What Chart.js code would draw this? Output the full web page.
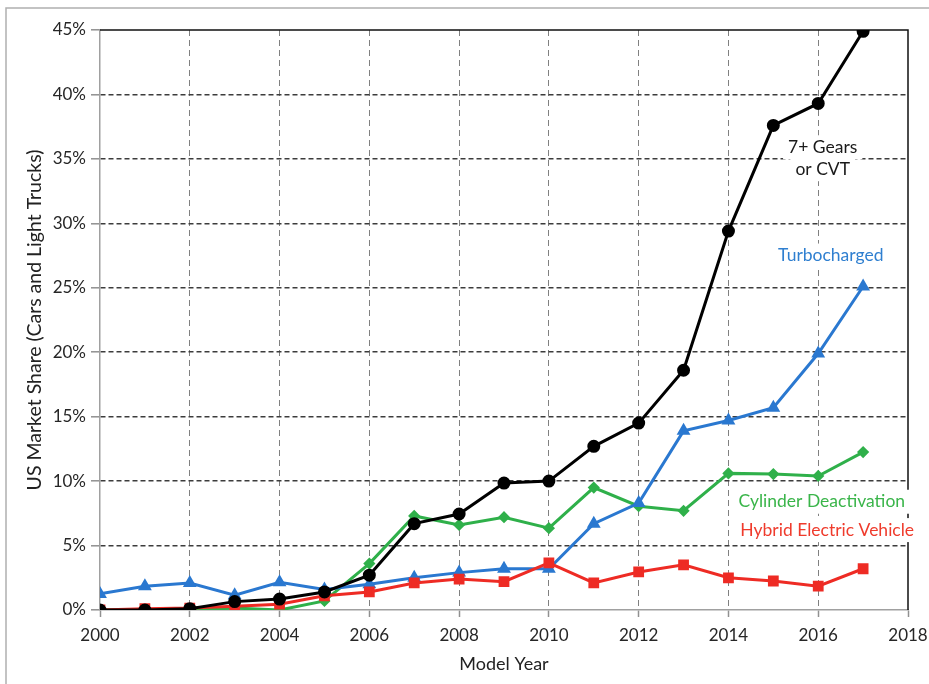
<!DOCTYPE html>
<html>
<head>
<meta charset="utf-8">
<script src="https://cdn.jsdelivr.net/npm/chart.js@4.4.1/dist/chart.umd.min.js"></script>
<style>
  html, body { margin: 0; padding: 0; background: #fff; }
  #wrap { width: 929px; height: 684px; }
</style>
</head>
<body>
<div id="wrap"><canvas id="shareChart" width="929" height="684"></canvas></div>
<script>
// Model years and market share (%) per technology
const years = [2000, 2001, 2002, 2003, 2004, 2005, 2006, 2007, 2008, 2009, 2010, 2011, 2012, 2013, 2014, 2015, 2016, 2017];
const gears = [0, 0, 0.1, 0.65, 0.85, 1.4, 2.7, 6.7, 7.45, 9.85, 10.0, 12.7, 14.5, 18.6, 29.4, 37.6, 39.3, 44.9];
const turbo = [1.25, 1.85, 2.1, 1.15, 2.15, 1.6, 2.0, 2.5, 2.9, 3.2, 3.2, 6.7, 8.3, 13.9, 14.7, 15.7, 19.9, 25.1];
const cylinder = [0, 0, 0, 0.15, 0, 0.7, 3.6, 7.3, 6.6, 7.2, 6.35, 9.5, 8.05, 7.7, 10.6, 10.55, 10.4, 12.25];
const hybrid = [0, 0.1, 0.15, 0.3, 0.45, 1.1, 1.4, 2.1, 2.4, 2.2, 3.65, 2.1, 2.95, 3.5, 2.5, 2.25, 1.85, 3.2];

// Series labels placed inside the plot
const seriesLabels = [
    { lines: ['7+ Gears', 'or CVT'], x: 2016.1, y: [35.9, 34.2], color: '#1a1a1a' },
    { lines: ['Turbocharged'], x: 2016.28, y: [27.5], color: '#2f7fd0' },
    { lines: ['Cylinder Deactivation'], x: 2016.08, y: [8.4], color: '#3ab54a' },
    { lines: ['Hybrid Electric Vehicle'], x: 2016.2, y: [6.2], color: '#ef3b2c' }
];

const FONT = 'Lato, "Open Sans", sans-serif';

function toPoints(values) {
    return values.map((v, i) => ({ x: years[i], y: v }));
}

// Frame, top/right plot borders and in-plot labels
const decorations = {
    id: 'decorations',
    beforeDraw(chart) {
        const ctx = chart.ctx;
        ctx.save();
        ctx.strokeStyle = '#b0b0b0';
        ctx.lineWidth = 1.5;
        ctx.beginPath();
        ctx.moveTo(6, 684);
        ctx.lineTo(6, 8);
        ctx.lineTo(929, 8);
        ctx.stroke();
        ctx.restore();
    },
    beforeDatasetsDraw(chart) {
        const { ctx, chartArea: a } = chart;
        ctx.save();
        ctx.strokeStyle = '#111';
        ctx.lineWidth = 1.5;
        ctx.beginPath();
        ctx.moveTo(a.left, a.top);
        ctx.lineTo(a.right, a.top);
        ctx.lineTo(a.right, a.bottom);
        ctx.stroke();
        ctx.restore();
    },
    afterDatasetsDraw(chart) {
        const ctx = chart.ctx;
        const xs = chart.scales.x, ys = chart.scales.y;
        ctx.save();
        ctx.font = '17.5px ' + FONT;
        ctx.textAlign = 'center';
        ctx.textBaseline = 'middle';
        seriesLabels.forEach(l => {
            const cx = xs.getPixelForValue(l.x);
            l.lines.forEach((t, i) => {
                const cy = ys.getPixelForValue(l.y[i]);
                const w = ctx.measureText(t).width;
                ctx.fillStyle = '#fff';
                ctx.fillRect(cx - w / 2 - 5, cy - 12, w + 10, 24);
            });
            l.lines.forEach((t, i) => {
                const cy = ys.getPixelForValue(l.y[i]);
                ctx.fillStyle = l.color;
                ctx.fillText(t, cx, cy);
            });
        });
        ctx.restore();
    }
};

new Chart(document.getElementById('shareChart'), {
    type: 'line',
    data: {
        datasets: [
            {
                label: '7+ Gears or CVT',
                data: toPoints(gears),
                borderColor: '#000',
                backgroundColor: '#000',
                borderWidth: 3,
                pointStyle: 'circle',
                pointRadius: 5
            },
            {
                label: 'Hybrid Electric Vehicle',
                data: toPoints(hybrid),
                borderColor: '#ee2b24',
                backgroundColor: '#ee2b24',
                borderWidth: 3,
                pointStyle: 'rect',
                pointRadius: 5.5
            },
            {
                label: 'Turbocharged',
                data: toPoints(turbo),
                borderColor: '#2a78d0',
                backgroundColor: '#2a78d0',
                borderWidth: 3,
                pointStyle: 'triangle',
                pointRadius: 5
            },
            {
                label: 'Cylinder Deactivation',
                data: toPoints(cylinder),
                borderColor: '#2fb04a',
                backgroundColor: '#2fb04a',
                borderWidth: 3,
                pointStyle: 'rectRot',
                pointRadius: 4
            }
        ]
    },
    options: {
        responsive: false,
        animation: false,
        layout: { padding: { left: 0, top: 30, right: 21, bottom: 0 } },
        plugins: {
            legend: { display: false },
            tooltip: { enabled: false }
        },
        elements: { line: { tension: 0 } },
        scales: {
            x: {
                type: 'linear',
                min: 2000,
                max: 2018,
                afterFit(scale) {
                    scale.height = 74;
                    scale.paddingLeft = 0;
                    scale.paddingRight = 0;
                },
                ticks: {
                    stepSize: 2,
                    padding: 8,
                    color: '#262626',
                    font: { family: FONT, size: 17 },
                    callback: v => String(v)
                },
                grid: {
                    color: ctx => (ctx.tick && (ctx.tick.value === 2000 || ctx.tick.value === 2018)) ? 'rgba(0,0,0,0)' : '#808080',
                    lineWidth: 1,
                    tickLength: 7,
                    tickColor: '#909090',
                    tickWidth: 1.5
                },
                border: { color: '#a0a0a0', width: 1.5, dash: [6, 4] },
                title: {
                    display: true,
                    text: 'Model Year',
                    color: '#222',
                    font: { family: FONT, size: 18 },
                    padding: { top: 0, bottom: 9 }
                }
            },
            y: {
                min: 0,
                max: 45,
                afterFit(scale) { scale.width = 100; },
                ticks: {
                    stepSize: 5,
                    padding: 5,
                    color: '#262626',
                    font: { family: FONT, size: 17 },
                    callback: v => v + '%'
                },
                grid: {
                    color: ctx => (ctx.tick && (ctx.tick.value === 0 || ctx.tick.value === 45)) ? 'rgba(0,0,0,0)' : '#3c3c3c',
                    lineWidth: 1.6,
                    tickLength: 9,
                    tickColor: '#909090',
                    tickWidth: 1.5
                },
                border: { color: '#a0a0a0', width: 1.5, dash: [5, 3] },
                title: {
                    display: true,
                    text: 'US Market Share (Cars and Light Trucks)',
                    color: '#222',
                    font: { family: FONT, size: 19.5 },
                    padding: { top: 23, bottom: 0 }
                }
            }
        }
    },
    plugins: [decorations]
});
</script>
</body>
</html>
